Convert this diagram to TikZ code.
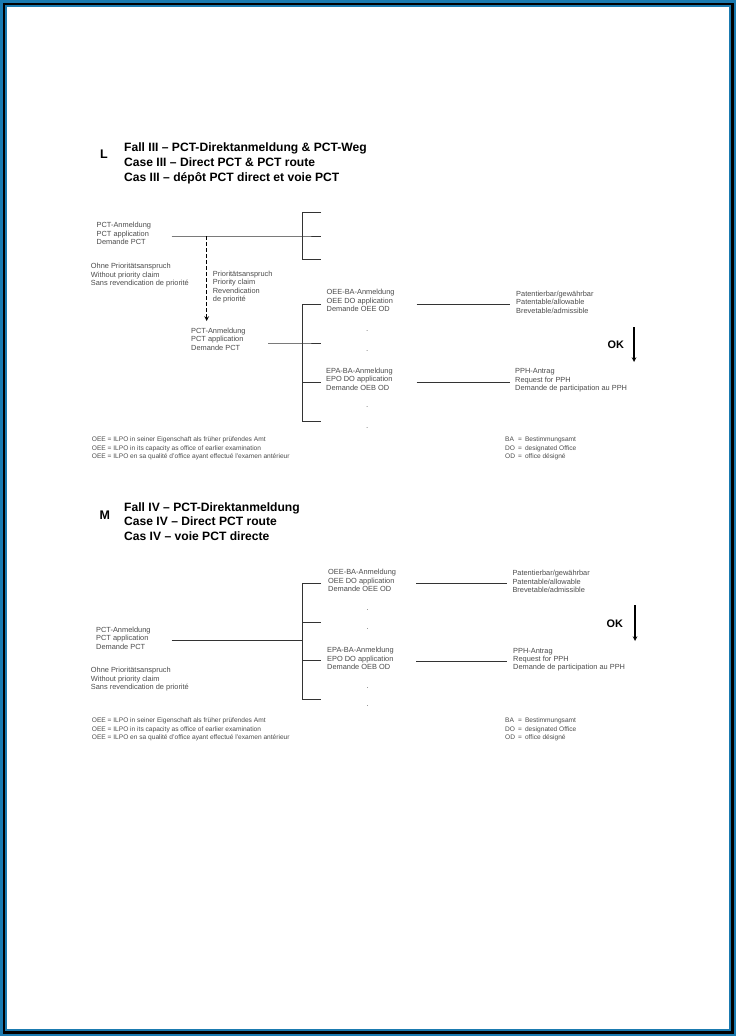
\documentclass[tikz,border=0pt]{standalone}
\usepackage{fontspec}
\setmainfont{Liberation Sans}
\usetikzlibrary{arrows, positioning}
\definecolor{frameblue}{HTML}{1A7AB0}
\tikzset{
    casetitle/.style={anchor=north west, inner sep=0pt, align=left, font=\fontsize{12.1}{14.7}\selectfont\bfseries},
    caseletter/.style={anchor=west, inner sep=0pt, font=\fontsize{12.5}{12.5}\selectfont\bfseries},
    note/.style={anchor=north west, inner sep=0pt, align=left, text=black!70, font=\fontsize{7.4}{8.5}\selectfont},
    legendtext/.style={anchor=north west, inner sep=0pt, align=left, text=black!70, font=\fontsize{6.6}{8.5}\selectfont},
    dotmark/.style={inner sep=0pt, text=black!60, font=\fontsize{8}{8}\selectfont},
    okmark/.style={anchor=west, inner sep=0pt, font=\fontsize{10.9}{10.9}\selectfont\bfseries},
    wire/.style={draw=black!80, line width=0.9pt},
    arrow/.style={line width=1.1pt,->,>=stealth},
    dasharrow/.style={line width=1.1pt,->,>=stealth, dash pattern=on 4pt off 2pt}
}
\newcommand{\abbr}[1]{\makebox[13pt][l]{#1}=\hspace{3pt}}

\begin{document}
\begin{tikzpicture}[x=1pt, y=-1pt]
    % frame
    \fill[frameblue] (0,0) rectangle (736,1036);
    \fill[black] (2.5,2.5) rectangle (733.5,1033.5);
    \fill[frameblue] (4.8,4.8) rectangle (731.2,1031.2);
    \fill[white] (7,7) rectangle (729,1029);

    % Case III
    \node[caseletter] (letL) at (100,154.5) {L};
    \node[casetitle] (titleL) at (124,143) {Fall III – PCT-Direktanmeldung \& PCT-Weg\\Case III – Direct PCT \& PCT route\\Cas III – dépôt PCT direct et voie PCT};
    \node[note] (pctL) at (96.5,222) {PCT-Anmeldung\\PCT application\\Demande PCT};
    \node[note] (noprioL) at (90.7,263.3) {Ohne Prioritätsanspruch\\Without priority claim\\Sans revendication de priorité};
    \node[note] (prioL) at (212.7,270.7) {Prioritätsanspruch\\Priority claim\\Revendication\\de priorité};
    \node[note] (pctL2) at (191,327.7) {PCT-Anmeldung\\PCT application\\Demande PCT};
    \node[note] (oeeL) at (326.5,289) {OEE-BA-Anmeldung\\OEE DO application\\Demande OEE OD};
    \node[note] (epaL) at (326,367.7) {EPA-BA-Anmeldung\\EPO DO application\\Demande OEB OD};
    \node[note] (patL) at (516,290.7) {Patentierbar/gewährbar\\Patentable/allowable\\Brevetable/admissible};
    \node[note] (pphL) at (515,368.3) {PPH-Antrag\\Request for PPH\\Demande de participation au PPH};
    \node[okmark] (okL) at (607.5,344.7) {OK};
    \node[dotmark] (dotL1) at (367.3,331) {.};
    \node[dotmark] (dotL2) at (367.3,351) {.};
    \node[dotmark] (dotL3) at (367.3,407.3) {.};
    \node[dotmark] (dotL4) at (367.3,427.7) {.};

    % bracket for PCT route
    \coordinate (lineL) at (171.7,236);
    \coordinate (topL) at (302,212);
    \coordinate (midL) at (302,236);
    \coordinate (botL) at (302,259);
    \coordinate (tickL1) at (321,212);
    \coordinate (tickL2) at (321,236);
    \coordinate (tickL3) at (321,259);
    \draw[wire] (lineL) -- (midL) -- (tickL2);
    \draw[wire] (tickL1) -- (topL) -- (botL) -- (tickL3);

    % priority claim
    \coordinate (dashL) at (206.7,236);
    \draw[dasharrow, shorten >=6.7pt] (dashL) -- (dashL |- pctL2.north);

    % bracket for OEE / EPA
    \coordinate (lineL2) at (268.3,343);
    \coordinate (v1L) at (302,304);
    \coordinate (v2L) at (302,343);
    \coordinate (v3L) at (302,382);
    \coordinate (v4L) at (302,421);
    \coordinate (t1L) at (321,304);
    \coordinate (t2L) at (321,343);
    \coordinate (t3L) at (321,382);
    \coordinate (t4L) at (321,421);
    \draw[wire] (lineL2) -- (v2L) -- (t2L);
    \draw[wire] (t1L) -- (v1L) -- (v4L) -- (t4L);
    \draw[wire] (v3L) -- (t3L);
    \coordinate (a1L) at (416.7,304);
    \coordinate (b1L) at (510,304);
    \coordinate (a2L) at (416.7,382);
    \coordinate (b2L) at (510,382);
    \draw[wire] (a1L) -- (b1L);
    \draw[wire] (a2L) -- (b2L);
    \coordinate (okTopL) at (634,327);
    \coordinate (okBotL) at (634,362);
    \draw[arrow] (okTopL) -- (okBotL);

    % legend
    \node[legendtext] (abbrL) at (91.7,437) {OEE = ILPO in seiner Eigenschaft als früher prüfendes Amt\\OEE = ILPO in its capacity as office of earlier examination\\OEE = ILPO en sa qualité d'office ayant effectué l'examen antérieur};
    \node[legendtext] (officeL) at (505,437) {\abbr{BA}Bestimmungsamt\\\abbr{DO}designated Office\\\abbr{OD}office désigné};

    % Case IV
    \node[caseletter] (letM) at (99.5,515) {M};
    \node[casetitle] (titleM) at (124,502.3) {Fall IV – PCT-Direktanmeldung\\Case IV – Direct PCT route\\Cas IV – voie PCT directe};
    \node[note] (pctM) at (96,626.7) {PCT-Anmeldung\\PCT application\\Demande PCT};
    \node[note] (noprioM) at (90.7,667.3) {Ohne Prioritätsanspruch\\Without priority claim\\Sans revendication de priorité};
    \node[note] (oeeM) at (328,569) {OEE-BA-Anmeldung\\OEE DO application\\Demande OEE OD};
    \node[note] (epaM) at (327,647.3) {EPA-BA-Anmeldung\\EPO DO application\\Demande OEB OD};
    \node[note] (patM) at (512.3,570) {Patentierbar/gewährbar\\Patentable/allowable\\Brevetable/admissible};
    \node[note] (pphM) at (513,647.7) {PPH-Antrag\\Request for PPH\\Demande de participation au PPH};
    \node[okmark] (okM) at (606.5,624) {OK};
    \node[dotmark] (dotM1) at (367.7,610) {.};
    \node[dotmark] (dotM2) at (367.7,629) {.};
    \node[dotmark] (dotM3) at (367.7,687.7) {.};
    \node[dotmark] (dotM4) at (367.7,706) {.};

    % bracket for OEE / EPA
    \coordinate (lineM) at (171.7,640);
    \coordinate (midM) at (302,640);
    \coordinate (v1M) at (302,583.3);
    \coordinate (v2M) at (302,622.3);
    \coordinate (v3M) at (302,660.7);
    \coordinate (v4M) at (302,699.3);
    \coordinate (t1M) at (321,583.3);
    \coordinate (t2M) at (321,622.3);
    \coordinate (t3M) at (321,660.7);
    \coordinate (t4M) at (321,699.3);
    \draw[wire] (lineM) -- (midM);
    \draw[wire] (t1M) -- (v1M) -- (v4M) -- (t4M);
    \draw[wire] (v2M) -- (t2M);
    \draw[wire] (v3M) -- (t3M);
    \coordinate (a1M) at (416,583.3);
    \coordinate (b1M) at (507,583.3);
    \coordinate (a2M) at (416,661);
    \coordinate (b2M) at (507,661);
    \draw[wire] (a1M) -- (b1M);
    \draw[wire] (a2M) -- (b2M);
    \coordinate (okTopM) at (635,605);
    \coordinate (okBotM) at (635,641);
    \draw[arrow] (okTopM) -- (okBotM);

    % legend
    \node[legendtext] (abbrM) at (91.7,718) {OEE = ILPO in seiner Eigenschaft als früher prüfendes Amt\\OEE = ILPO in its capacity as office of earlier examination\\OEE = ILPO en sa qualité d'office ayant effectué l'examen antérieur};
    \node[legendtext] (officeM) at (505,718) {\abbr{BA}Bestimmungsamt\\\abbr{DO}designated Office\\\abbr{OD}office désigné};
\end{tikzpicture}
\end{document}
